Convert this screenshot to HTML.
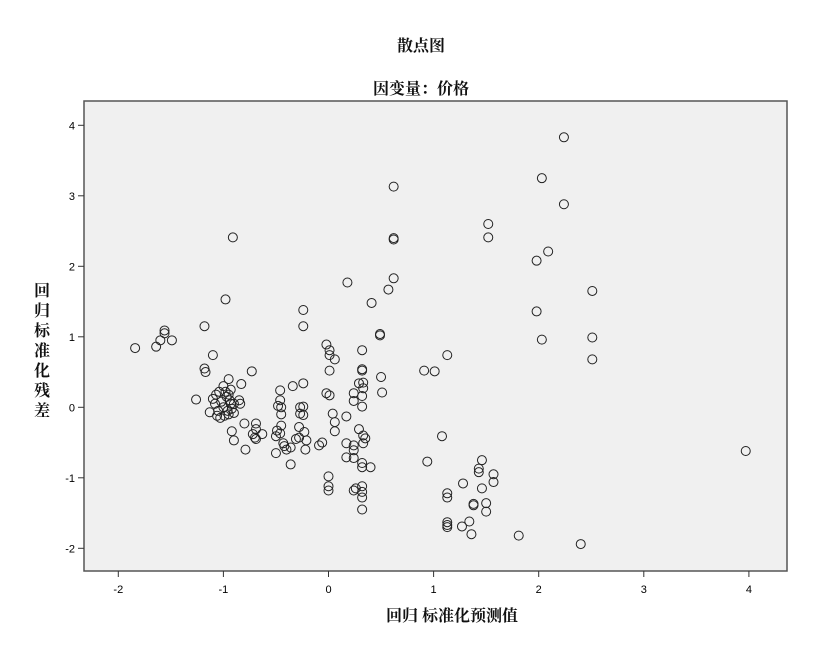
<!DOCTYPE html>
<html><head><meta charset="utf-8"><style>
body{margin:0;background:#fff;width:840px;height:646px;overflow:hidden}
svg text{font-family:"Liberation Sans","Noto Sans CJK SC",sans-serif}
svg text.cjk{font-family:"Liberation Serif","Noto Serif CJK SC",serif}
</style></head><body>
<svg id="chart" width="840" height="646">
<text class="cjk" x="421" y="51" text-anchor="middle" font-size="16" font-weight="bold" fill="#111">散点图</text>
<text class="cjk" x="421" y="94" text-anchor="middle" font-size="16" font-weight="bold" fill="#111">因变量：价格</text>
<rect x="84" y="101" width="703" height="470" fill="#f0f0f0" stroke="#555" stroke-width="1.5"/>
<g id="ticks"></g>
<g id="pts"></g>
<g font-size="16" font-weight="bold" fill="#111" text-anchor="middle">
<text class="cjk" x="42" y="296">回</text><text class="cjk" x="42" y="316">归</text><text class="cjk" x="42" y="336">标</text><text class="cjk" x="42" y="356">准</text><text class="cjk" x="42" y="376">化</text><text class="cjk" x="42" y="396">残</text><text class="cjk" x="42" y="416">差</text>
</g>
<text class="cjk" x="452" y="621" text-anchor="middle" font-size="16" font-weight="bold" fill="#111">回归 标准化预测值</text>
</svg>
<script>
const xTicks=[-2,-1,0,1,2,3,4];
const yTicks=[-2,-1,0,1,2,3,4];
const xVals=[-1.84,-1.64,-1.60,-1.56,-1.56,-1.49,-1.18,-1.10,-1.18,-1.17,-1.26,-1.13,-0.98,-0.91,-0.73,-0.95,-0.83,-0.92,-0.90,-0.79,-0.80,-0.69,-0.69,-0.63,-0.69,
-0.50,-0.46,-0.45,-0.49,-0.43,-0.50,-0.36,-0.36,-0.31,-0.28,-0.23,-0.21,-0.22,-0.09,-0.06,-0.28,-0.46,-0.46,-0.45,-0.34,-0.24,-0.27,-0.24,-0.27,-0.24,-0.24,-0.24,
0.62,0.62,0.62,0.62,0.57,0.41,0.18,0.49,0.49,-0.02,0.01,0.01,0.06,0.01,0.32,0.32,0.32,0.29,0.33,0.33,0.32,0.32,0.24,0.24,0.50,0.51,-0.02,0.01,
0.04,0.06,0.06,0.17,0.29,0.33,0.35,0.33,0.17,0.17,0.24,0.24,0.24,0.32,0.40,0.32,0,0,0,0.26,0.32,0.32,0.32,0.32,0.24,
0.91,1.01,1.13,1.08,0.94,1.13,1.13,1.13,1.13,1.13,1.28,1.27,1.34,1.36,1.38,1.38,1.43,1.43,1.46,1.46,1.50,1.50,1.57,1.57,1.81,2.40,3.97,
1.52,1.52,2.03,2.24,2.24,2.09,1.98,1.98,2.03,2.51,2.51,2.51,
-1.10,-1.07,-1.08,-1.05,-1.03,-1.02,-1.00,-0.98,-0.97,-0.96,-0.95,-0.94,-0.93,-0.92,-0.90,-0.99,-1.00,-0.93,-0.90,-0.85,-0.84,-0.95,-1.04,-1.06,
-0.48,-0.45,-0.72,-0.70,-0.40,-0.42];
const yVals=[0.84,0.86,0.95,1.05,1.09,0.95,1.15,0.74,0.55,0.50,0.11,-0.07,1.53,2.41,0.51,0.40,0.33,-0.34,-0.47,-0.60,-0.23,-0.23,-0.31,-0.38,-0.45,
-0.41,-0.37,-0.26,-0.33,-0.51,-0.65,-0.57,-0.81,-0.45,-0.43,-0.35,-0.47,-0.60,-0.54,-0.50,-0.28,0.24,0.10,0.00,0.30,0.34,0.00,0.01,-0.09,-0.11,1.38,1.15,
3.13,2.40,2.38,1.83,1.67,1.48,1.77,1.04,1.02,0.89,0.81,0.74,0.68,0.52,0.81,0.54,0.52,0.34,0.35,0.27,0.16,0.01,0.20,0.09,0.43,0.21,0.20,0.17,
-0.09,-0.21,-0.34,-0.13,-0.31,-0.40,-0.44,-0.51,-0.51,-0.71,-0.54,-0.61,-0.72,-0.79,-0.85,-0.85,-0.98,-1.12,-1.18,-1.15,-1.12,-1.20,-1.28,-1.45,-1.18,
0.52,0.51,0.74,-0.41,-0.77,-1.22,-1.28,-1.63,-1.67,-1.70,-1.08,-1.69,-1.62,-1.80,-1.39,-1.37,-0.87,-0.92,-0.75,-1.15,-1.36,-1.48,-0.95,-1.06,-1.82,-1.94,-0.62,
2.60,2.41,3.25,3.83,2.88,2.21,2.08,1.36,0.96,1.65,0.99,0.68,
0.12,0.18,0.05,-0.05,-0.15,0.08,0.00,0.22,0.15,-0.05,-0.10,0.10,0.25,-0.02,0.05,-0.12,0.30,0.05,-0.08,0.10,0.05,0.18,0.22,-0.12,
0.02,-0.10,-0.38,-0.43,-0.60,-0.55];
const NS='http://www.w3.org/2000/svg';
function sx(v){return 328.5+v*105.1;}
function sy(v){return 407.3-v*70.5;}
const tg=document.getElementById('ticks');
xTicks.forEach(t=>{
  const l=document.createElementNS(NS,'line');
  l.setAttribute('x1',sx(t));l.setAttribute('x2',sx(t));l.setAttribute('y1',571);l.setAttribute('y2',577);
  l.setAttribute('stroke','#333');
  
  
  tg.appendChild(l);
  const tx=document.createElementNS(NS,'text');
  tx.setAttribute('x',sx(t));tx.setAttribute('y',593);tx.setAttribute('text-anchor','middle');tx.setAttribute('font-size','11');
  tx.textContent=t;
  
  
  tg.appendChild(tx);
});
yTicks.forEach(t=>{
  const l=document.createElementNS(NS,'line');
  l.setAttribute('x1',78);l.setAttribute('x2',84);l.setAttribute('y1',sy(t));l.setAttribute('y2',sy(t));
  l.setAttribute('stroke','#333');
  
  
  tg.appendChild(l);
  const tx=document.createElementNS(NS,'text');
  tx.setAttribute('x',75);tx.setAttribute('y',sy(t)+4);tx.setAttribute('text-anchor','end');tx.setAttribute('font-size','11');
  tx.textContent=t;
  
  
  tg.appendChild(tx);
});
const pg=document.getElementById('pts');
xVals.forEach((x,i)=>{
  const c=document.createElementNS(NS,'circle');
  c.setAttribute('cx',sx(x));c.setAttribute('cy',sy(yVals[i]));c.setAttribute('r',4.5);
  c.setAttribute('fill','none');c.setAttribute('stroke','#222');c.setAttribute('stroke-width','1');
  
  
  pg.appendChild(c);
});
</script>
</body></html>
